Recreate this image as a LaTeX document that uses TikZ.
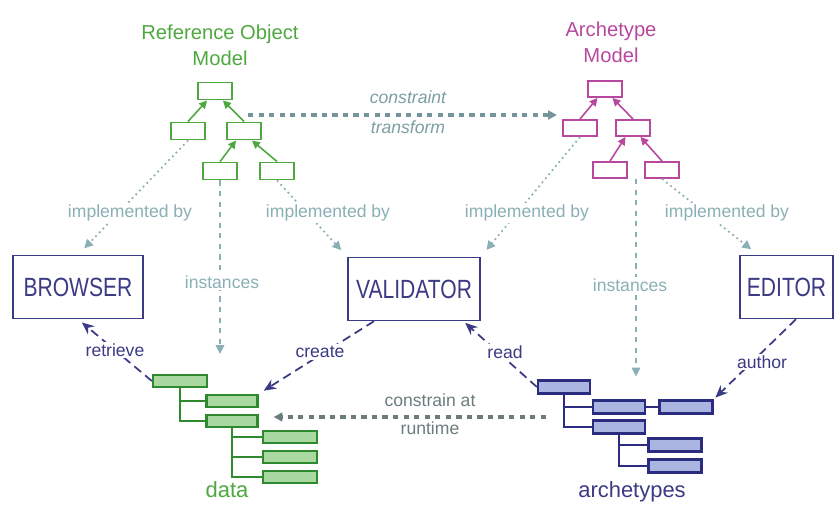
\documentclass[tikz,border=0pt]{standalone}
\usepackage{fontspec}
\setmainfont{Liberation Sans}
\newfontfamily\narrowfont{Liberation Sans}[FakeStretch=0.8]
\usepackage{tikz}
\usetikzlibrary{arrows.meta}
\usetikzlibrary{calc}
\usetikzlibrary{positioning}
\definecolor{rom-green}{HTML}{4FA83F}
\definecolor{am-magenta}{HTML}{B8479E}
\definecolor{impl-teal}{HTML}{8AAFB5}
\definecolor{tool-navy}{HTML}{3A3A85}
\definecolor{data-fill}{HTML}{A9D9A0}
\definecolor{data-line}{HTML}{2F8A2F}
\definecolor{arch-fill}{HTML}{ABB5E2}
\definecolor{arch-line}{HTML}{2B2B80}
\definecolor{rt-grey}{HTML}{6A7C7C}

\begin{document}
\begin{tikzpicture}[x=0.02cm, y=-0.02cm,
    label10/.style={font=\fontsize{10}{12}\selectfont, inner sep=1pt}]

    \useasboundingbox (0,0) rectangle (835,504);

    % model titles
    \begin{scope}[every node/.style={align=center, font=\fontsize{11.5}{14.7}\selectfont}]
        \node[text=rom-green] (romtitle) at (220,45) {Reference Object\\Model};
        \node[text=am-magenta] (amtitle) at (611,42) {Archetype\\Model};
    \end{scope}

    % reference object model classes
    \begin{scope}[every node/.style={rectangle, draw=rom-green, line width=1.1pt,
                  minimum width=0.68cm, minimum height=0.34cm, inner sep=0pt}]
        \node (r1) at (215,91) {};
        \node (r2) at (188,131) {};
        \node (r3) at (244,131) {};
        \node (r4) at (220,171) {};
        \node (r5) at (277,171) {};
    \end{scope}

    % archetype model classes
    \begin{scope}[every node/.style={rectangle, draw=am-magenta, line width=1.1pt,
                  minimum width=0.68cm, minimum height=0.32cm, inner sep=0pt}]
        \node (a1) at (605,89) {};
        \node (a2) at (580,128) {};
        \node (a3) at (633,128) {};
        \node (a4) at (610,170) {};
        \node (a5) at (662,170) {};
    \end{scope}

    % inheritance
    \begin{scope}[every edge/.style={draw, line width=0.9pt}]
        \path[-{Triangle[length=4.5pt, width=4.5pt]}, color=rom-green]
            (r2.north) edge (r1.230)
            (r3.north) edge (r1.310)
            (r4.north) edge (r3.230)
            (r5.north) edge (r3.310);
        \path[-{Triangle[length=4.5pt, width=4.5pt]}, color=am-magenta]
            (a2.north) edge (a1.230)
            (a3.north) edge (a1.310)
            (a4.north) edge (a3.230)
            (a5.north) edge (a3.310);
    \end{scope}

    % tools
    \begin{scope}[every node/.style={rectangle, draw=tool-navy, line width=0.8pt,
                  text=tool-navy, font=\narrowfont\fontsize{15}{18}\selectfont,
                  minimum height=1.26cm}]
        \node[minimum width=2.6cm] (browser) at (78,287) {BROWSER};
        \node[minimum width=2.64cm] (validator) at (414,289) {VALIDATOR};
        \node[minimum width=1.86cm] (editor) at (786.5,287) {EDITOR};
    \end{scope}

    % data
    \begin{scope}[every node/.style={rectangle, draw=data-line, fill=data-fill,
                  line width=1.3pt, minimum height=0.24cm, inner sep=0pt}]
        \node[minimum width=1.08cm] (d1) at (180,381) {};
        \node[minimum width=1.02cm] (d2) at (232,401) {};
        \node[minimum width=1.02cm] (d3) at (232,421) {};
        \node[minimum width=1.08cm] (d4) at (290,437) {};
        \node[minimum width=1.08cm] (d5) at (290,457) {};
        \node[minimum width=1.08cm] (d6) at (290,477) {};
    \end{scope}
    \draw[data-line, line width=1.3pt] (d1.south) |- (d2.west) (d1.south) |- (d3.west)
        (d3.south) |- (d4.west) (d3.south) |- (d5.west) (d3.south) |- (d6.west);
    \node[text=rom-green, font=\fontsize{12.5}{15}\selectfont] (datalabel) at (227,490) {data};

    % archetypes
    \begin{scope}[every node/.style={rectangle, draw=arch-line, fill=arch-fill,
                  line width=1.3pt, minimum height=0.26cm, inner sep=0pt}]
        \node[minimum width=1.04cm] (b1) at (564,387) {};
        \node[minimum width=1.04cm] (b2) at (619,407) {};
        \node[minimum width=1.06cm] (b3) at (686,407) {};
        \node[minimum width=1.04cm] (b4) at (619,427) {};
        \node[minimum width=1.06cm] (b5) at (675,445) {};
        \node[minimum width=1.06cm] (b6) at (675,466) {};
    \end{scope}
    \draw[arch-line, line width=1.3pt] (b1.south) |- (b2.west) (b1.south) |- (b4.west)
        (b2.east) -- (b3.west)
        (b4.south) |- (b5.west) (b4.south) |- (b6.west);
    \node[text=tool-navy, font=\fontsize{12.5}{15}\selectfont] (archlabel) at (632,492) {archetypes};

    % constraint transform
    \coordinate (ct1) at (248,115);
    \coordinate (ct2) at (557,115);
    \draw[-{Triangle[length=5pt, width=5pt]}, impl-teal!85!black, line width=1.8pt,
          dash pattern=on 3pt off 3pt] (ct1) -- (ct2);
    \node[label10, text=impl-teal!90!black, font=\itshape\fontsize{10}{12}\selectfont] (ctlabel1) at (408,97) {constraint};
    \node[label10, text=impl-teal!90!black, font=\itshape\fontsize{10}{12}\selectfont] (ctlabel2) at (408,127) {transform};

    % implemented by
    \begin{scope}[every edge/.style={draw, dotted, line width=1pt, shorten >=0.18cm}]
        \path[-{Triangle[length=5pt, width=5pt]}, color=impl-teal]
            (r2.south) edge (browser.north)
            (r5.south) edge (validator.north west)
            (a2.south) edge (validator.north east)
            (a5.south) edge ($(editor.north west)!0.2!(editor.north east)$);
    \end{scope}

    % instances
    \coordinate (inst2) at ($(a4.south east)!0.5!(a5.south west)$);
    \begin{scope}[every edge/.style={draw, dashed, line width=0.7pt}]
        \path[-{Triangle[length=5pt, width=5pt]}, color=impl-teal]
            (r4.south) edge[shorten >=0.4cm] (r4.south |- d1.north)
            (inst2) edge[shorten >=0.46cm] (inst2 |- b2.north);
    \end{scope}

    % constrain at runtime
    \coordinate (rt) at ($(b2.west)!0.5!(b4.west)$);
    \draw[-{Triangle[length=5pt, width=5pt]}, rt-grey, line width=1.8pt,
          dash pattern=on 3pt off 3pt, shorten <=0.92cm, shorten >=0.3cm]
        (rt) -- (rt -| d3.east);
    \node[label10, text=rt-grey] (rtlabel1) at (430,400) {constrain at};
    \node[label10, text=rt-grey] (rtlabel2) at (430,428) {runtime};

    % tool use
    \begin{scope}[every edge/.style={draw, line width=1pt, dash pattern=on 5pt off 3pt}]
        \path[-{Stealth[length=7pt, width=6pt]}, color=tool-navy]
            (d1.west) edge[shorten >=0.1cm] (browser.south)
            ($(validator.south west)!0.2!(validator.south east)$) edge[shorten >=0.12cm] (d2.north east)
            (b1.west) edge[shorten >=0.05cm] ($(validator.south west)!0.87!(validator.south east)$)
            ($(editor.south west)!0.6!(editor.south east)$) edge[shorten >=0.05cm] (b3.north east);
    \end{scope}

    % labels
    \begin{scope}[every node/.style={label10, fill=white}]
        \node[text=impl-teal] (impl1) at (130,213) {implemented by};
        \node[text=impl-teal] (impl2) at (328,213) {implemented by};
        \node[text=impl-teal] (impl3) at (527,213) {implemented by};
        \node[text=impl-teal] (impl4) at (727,213) {implemented by};
        \node[text=impl-teal] (inst1label) at (222,282) {instances};
        \node[text=impl-teal] (inst2label) at (630,285) {instances};
        \node[text=tool-navy] (retrieve) at (115,350) {retrieve};
        \node[text=tool-navy] (create) at (320,352) {create};
        \node[text=tool-navy] (read) at (505,352) {read};
        \node[text=tool-navy] (author) at (762,362) {author};
    \end{scope}

\end{tikzpicture}
\end{document}
